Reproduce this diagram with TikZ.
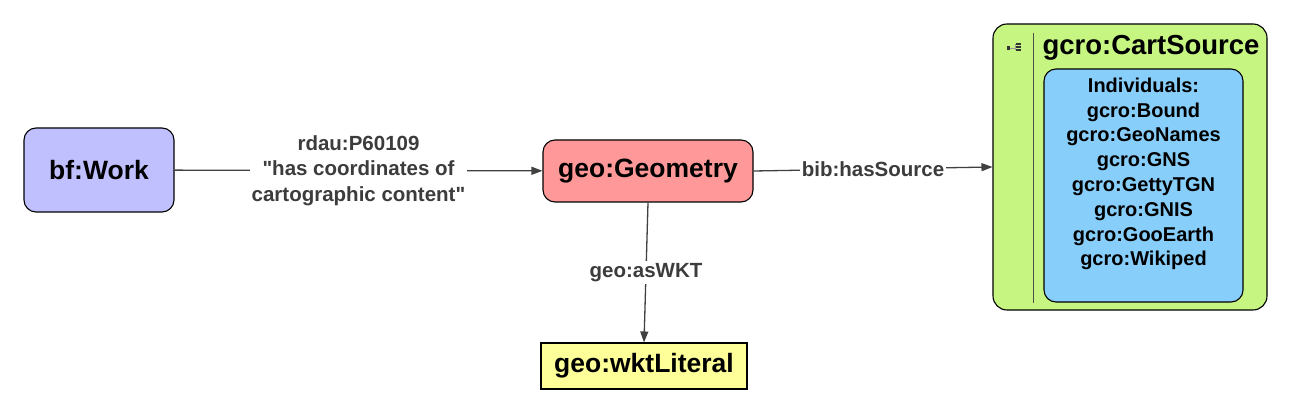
\documentclass[tikz,border=0pt]{standalone}
\usepackage{fontspec}
\setmainfont{Liberation Sans}
\usetikzlibrary{arrows.meta}

\definecolor{workblue}{RGB}{192,192,255}
\definecolor{geomred}{RGB}{255,153,153}
\definecolor{wktyellow}{RGB}{255,255,153}
\definecolor{cartgreen}{RGB}{198,245,130}
\definecolor{indivblue}{RGB}{135,206,250}
\definecolor{edgegrey}{RGB}{64,64,64}
\definecolor{labelgrey}{RGB}{60,60,60}

\begin{document}
\begin{tikzpicture}[
		x=1pt, y=-1pt,
		cls/.style={draw, rounded corners=12pt, line width=1.1pt, font=\fontsize{26.5}{30}\selectfont\bfseries},
		rel/.style={fill=white, text=labelgrey, align=center, inner sep=2pt, font=\fontsize{20.5}{25.5}\selectfont\bfseries},
		conn/.style={draw=edgegrey, line width=1.3pt, -{Triangle[length=11pt,width=8pt]}}
	]
  \useasboundingbox (0,0) rectangle (1293,414);
  \node (work) [cls, fill=workblue, minimum width=150pt, minimum height=84pt] at (99,170) {bf:Work};
  \node (geom) [cls, fill=geomred, minimum width=210pt, minimum height=62pt] at (648,171) {geo:Geometry};
  \node (wkt) [cls, rounded corners=0pt, fill=wktyellow, minimum width=206pt, minimum height=46pt] at (644,366) {geo:wktLiteral};
  \node (cart) [cls, fill=cartgreen, rounded corners=14pt, minimum width=274pt, minimum height=286pt] at (1130,167) {};
  \node (cart_title) [font=\fontsize{27.5}{30}\selectfont\bfseries] at (1151,48) {gcro:CartSource};
  \node (indiv) [draw, line width=1.1pt, rounded corners=12pt, fill=indivblue, minimum width=199pt, minimum height=233pt] at (1143.5,185.5) {};
  \node (indiv_list) [align=center, font=\fontsize{20}{24.8}\selectfont\bfseries] at (1143.5,174) {Individuals:\\gcro:Bound\\gcro:GeoNames\\gcro:GNS\\gcro:GettyTGN\\gcro:GNIS\\gcro:GooEarth\\gcro:Wikiped};
  % collapse handle of the class box
  \draw[line width=0.8pt, black!70] (1033,33) -- (1033,303);
  \fill[black!80] (1007,46) rectangle (1010,50);
  \draw[black!40] (1010,48) -- (1015,48) (1015,44) -- (1015,50);
  \foreach \y in {44,47,50}
    \fill[black!80] (1016,\y-1) rectangle (1021,\y+0.8);
  \draw[conn] (work) -- node[rel] {rdau:P60109\\\textquotedbl has coordinates of\\cartographic content\textquotedbl} (geom);
  \draw[conn] (geom.east) -- node[rel] {bib:hasSource} (cart.west);
  \draw[conn] (geom.south) -- node[rel] {geo:asWKT} (wkt.north);
\end{tikzpicture}
\end{document}
